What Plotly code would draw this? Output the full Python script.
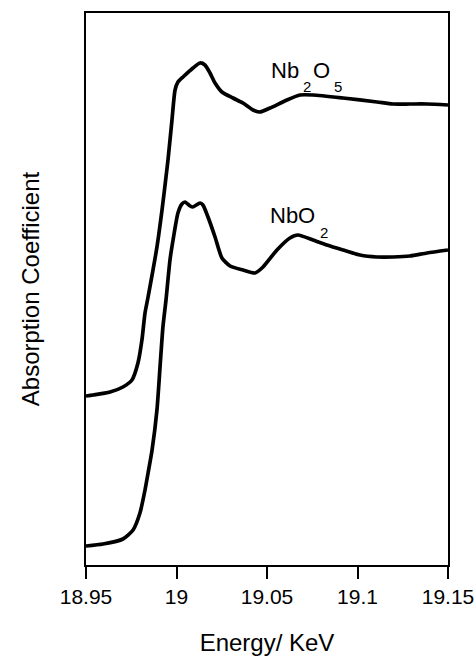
import plotly.graph_objects as go

# Energy (keV) and absorption (arbitrary units, offset)
nb2o5_energy = [18.9500, 18.9539, 18.9633, 18.9704, 18.9754, 18.9787, 18.9809, 18.9826,
                18.9843, 18.9892, 18.9920, 18.9942, 18.9953, 18.9975, 18.9992, 19.0008,
                19.0036, 19.0091, 19.0130, 19.0157, 19.0185, 19.0213, 19.0251, 19.0312,
                19.0367, 19.0423, 19.0461, 19.0517, 19.0610, 19.0682, 19.0754, 19.0920,
                19.1108, 19.1196, 19.1290, 19.1384, 19.1500]
nb2o5_abs = [1.69, 1.70, 1.73, 1.78, 1.85, 2.02, 2.25, 2.52,
             2.68, 3.18, 3.55, 3.88, 4.05, 4.45, 4.75, 4.83,
             4.88, 4.97, 5.02, 5.00, 4.92, 4.82, 4.73, 4.67,
             4.62, 4.55, 4.53, 4.57, 4.65, 4.70, 4.70, 4.67,
             4.63, 4.61, 4.61, 4.61, 4.60]

nbo2_energy = [18.9500, 18.9594, 18.9704, 18.9760, 18.9798, 18.9826, 18.9843, 18.9865,
               18.9892, 18.9909, 18.9925, 18.9942, 18.9964, 18.9981, 19.0008, 19.0030,
               19.0047, 19.0075, 19.0091, 19.0130, 19.0146, 19.0174, 19.0213, 19.0251,
               19.0296, 19.0367, 19.0434, 19.0478, 19.0555, 19.0627, 19.0671, 19.0754,
               19.0831, 19.0920, 19.1014, 19.1108, 19.1196, 19.1290, 19.1384, 19.1500]
nbo2_abs = [0.19, 0.21, 0.26, 0.35, 0.52, 0.75, 0.92, 1.15,
            1.55, 1.98, 2.38, 2.65, 3.05, 3.25, 3.52, 3.61,
            3.63, 3.59, 3.58, 3.62, 3.60, 3.48, 3.28, 3.07,
            2.99, 2.95, 2.92, 2.98, 3.15, 3.27, 3.30, 3.25,
            3.20, 3.15, 3.10, 3.08, 3.08, 3.09, 3.12, 3.15]

x_ticks = [18.95, 19.0, 19.05, 19.1, 19.15]
x_tick_labels = ["18.95", "19", "19.05", "19.1", "19.15"]

# Curve labels: chemical formula pieces (main text and subscripts)
label_pieces = [
    # (text, energy, absorption, is_subscript)
    ("Nb", 19.0517, 4.945, False),
    ("2", 19.0693, 4.785, True),
    ("O", 19.0749, 4.945, False),
    ("5", 19.0865, 4.785, True),
    ("NbO", 19.0511, 3.495, False),
    ("2", 19.0787, 3.325, True),
]

FONT = "Liberation Sans, Arial, sans-serif"

fig = go.Figure()
fig.add_trace(go.Scatter(x=nb2o5_energy, y=nb2o5_abs, mode="lines",
                         line=dict(color="black", width=3.7, shape="spline", smoothing=0.6),
                         showlegend=False, hoverinfo="skip"))
fig.add_trace(go.Scatter(x=nbo2_energy, y=nbo2_abs, mode="lines",
                         line=dict(color="black", width=3.7, shape="spline", smoothing=0.6),
                         showlegend=False, hoverinfo="skip"))

for txt, ex, ey, sub in label_pieces:
    fig.add_annotation(x=ex, y=ey, xanchor="left", yanchor="middle",
                       text=txt, showarrow=False, borderpad=0,
                       font=dict(family=FONT, size=15 if sub else 22, color="black"))

fig.update_layout(
    width=476, height=656,
    autosize=False,
    margin=dict(l=86, r=28, t=13, b=91, autoexpand=False),
    paper_bgcolor="white", plot_bgcolor="white",
    font=dict(family=FONT, color="black"),
    xaxis=dict(range=[18.95, 19.15], tickvals=x_ticks, ticktext=x_tick_labels,
               ticks="outside", ticklen=12, tickwidth=2, tickcolor="black",
               showline=True, linecolor="black", linewidth=2, mirror=True,
               showgrid=False, zeroline=False, automargin=False,
               tickfont=dict(size=21, family=FONT),
               title=dict(text="Energy/ KeV", font=dict(size=24, family=FONT), standoff=30)),
    yaxis=dict(range=[0, 5.52], showticklabels=False, ticks="",
               showline=True, linecolor="black", linewidth=2, mirror=True,
               showgrid=False, zeroline=False, automargin=False,
               title=dict(text="Absorption Coefficient", font=dict(size=24, family=FONT), standoff=38)),
)

fig.write_html("out.html")
